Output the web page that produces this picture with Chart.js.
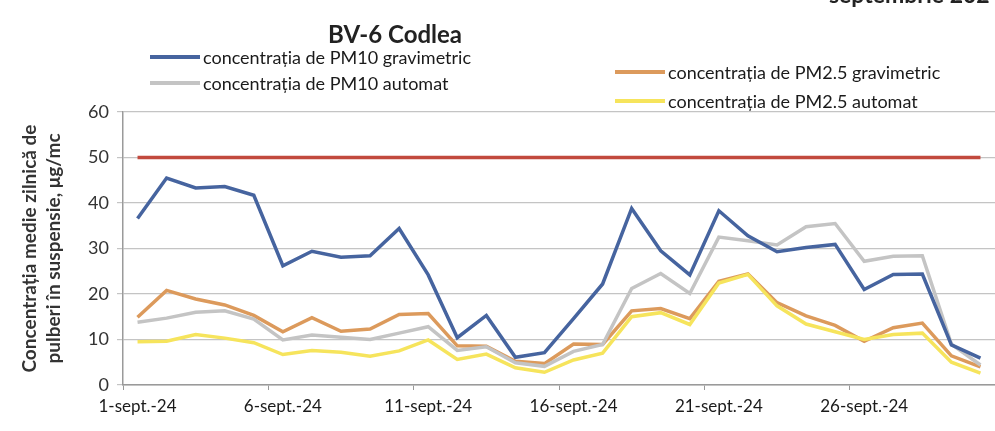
<!DOCTYPE html>
<html>
<head>
<meta charset="utf-8">
<script src="https://cdn.jsdelivr.net/npm/chart.js@4"></script>
<style>
  html, body { margin: 0; padding: 0; background: #fff; }
  #wrap { position: relative; width: 995px; height: 431px; overflow: hidden; font-family: Lato, "Open Sans", sans-serif; }
  #c { position: absolute; left: 0; top: 0; }
  .title { position: absolute; left: 0; width: 790px; top: 19px; text-align: center; font-weight: bold; font-size: 24px; color: #222; }
  .toptext { position: absolute; right: -8px; top: -20px; font-weight: bold; font-size: 23px; color: #222; white-space: nowrap; }
  .lg { position: absolute; display: flex; align-items: center; font-size: 18px; color: #1a1a1a; white-space: nowrap; }
  .lg span.s { display: inline-block; width: 50px; height: 4px; margin-right: 3px; }
</style>
</head>
<body>
<div id="wrap">
  <canvas id="c" width="995" height="431"></canvas>
  <div class="toptext">septembrie 2024</div>
  <div class="title">BV-6 Codlea</div>
  <div id="legend"></div>
</div>
<script>
const categories = [
  "1-sept.-24","2-sept.-24","3-sept.-24","4-sept.-24","5-sept.-24",
  "6-sept.-24","7-sept.-24","8-sept.-24","9-sept.-24","10-sept.-24",
  "11-sept.-24","12-sept.-24","13-sept.-24","14-sept.-24","15-sept.-24",
  "16-sept.-24","17-sept.-24","18-sept.-24","19-sept.-24","20-sept.-24",
  "21-sept.-24","22-sept.-24","23-sept.-24","24-sept.-24","25-sept.-24",
  "26-sept.-24","27-sept.-24","28-sept.-24","29-sept.-24","30-sept.-24"
];
const pm10Gravimetric = [36.6,45.5,43.3,43.6,41.7,26.2,29.4,28.1,28.4,34.4,24.2,10.4,15.3,6.1,7.1,14.6,22.2,38.8,29.5,24.2,38.3,32.8,29.3,30.2,30.9,21.0,24.3,24.4,8.8,5.9];
const pm10Automat     = [13.8,14.7,16.0,16.3,14.5,9.9,11.0,10.5,10.0,11.4,12.8,7.6,8.4,4.9,4.1,7.4,8.9,21.2,24.5,20.1,32.5,31.7,30.8,34.8,35.5,27.2,28.3,28.4,9.0,4.4];
const pm25Gravimetric = [14.9,20.8,18.9,17.6,15.3,11.7,14.8,11.8,12.3,15.5,15.7,8.6,8.5,5.2,4.7,9.0,8.9,16.3,16.8,14.6,22.8,24.4,18.1,15.2,13.1,9.6,12.6,13.6,6.4,4.0];
const pm25Automat     = [9.5,9.6,11.1,10.3,9.3,6.7,7.6,7.2,6.3,7.5,9.9,5.6,6.8,3.8,2.8,5.5,7.0,15.0,15.9,13.3,22.4,24.3,17.4,13.4,11.7,10.0,11.1,11.4,5.0,2.6];
const limitValue = 50;
const yTicks = [0,10,20,30,40,50,60];
const labelEvery = 5;

const seriesNames = [
  "concentrația de PM10 gravimetric",
  "concentrația de PM10 automat",
  "concentrația de PM2.5 gravimetric",
  "concentrația de PM2.5 automat"
];
const colors = ["#46649f", "#c4c4c4", "#dc9a5c", "#f6e45c"];

const FONT = "Lato, 'Open Sans', sans-serif";

const datasets = [
  { label: seriesNames[0], data: pm10Gravimetric, borderColor: colors[0], order: 2 },
  { label: seriesNames[1], data: pm10Automat, borderColor: colors[1], order: 3 },
  { label: seriesNames[2], data: pm25Gravimetric, borderColor: colors[2], order: 4 },
  { label: seriesNames[3], data: pm25Automat, borderColor: colors[3], order: 1 },
  { label: "valoare limită", data: categories.map(() => limitValue), borderColor: "#c24a3e", order: 5 }
].map(d => Object.assign({ borderWidth: 3.5, pointRadius: 0, tension: 0, fill: false }, d));

new Chart(document.getElementById("c"), {
  type: "line",
  data: { labels: categories, datasets },
  options: {
    responsive: false,
    animation: false,
    layout: { padding: { left: 0, right: 0, top: 112, bottom: 0 } },
    plugins: { legend: { display: false }, title: { display: false }, tooltip: { enabled: false } },
    scales: {
      x: {
        offset: true,
        grid: {
          offset: true,
          drawOnChartArea: false,
          tickLength: 5,
          color: ctx => (ctx.index % labelEvery === 0 ? "#999" : "rgba(0,0,0,0)")
        },
        border: { color: "#9a9a9a", width: 1.5 },
        ticks: {
          autoSkip: false,
          maxRotation: 0,
          padding: 6,
          color: "#1a1a1a",
          font: { family: FONT, size: 17 },
          callback: (v, i) => (i % labelEvery === 0 ? categories[i] : "")
        },
        afterFit: s => { s.height = 46; }
      },
      y: {
        min: 0, max: 60,
        afterBuildTicks: s => { s.ticks = yTicks.map(v => ({ value: v })); },
        grid: { color: "#c4c4c4", lineWidth: 1.2, tickLength: 6 },
        border: { color: "#9a9a9a", width: 1.5 },
        ticks: { color: "#333", padding: 8, font: { family: FONT, size: 18 } },
        title: {
          display: true,
          text: ["Concentrația medie zilnică de", "pulberi în suspensie, μg/mc"],
          color: "#333",
          font: { family: FONT, size: 19, weight: "bold", lineHeight: 1.25 },
          padding: { top: 18, bottom: 4 }
        },
        afterFit: s => { s.width = 123; }
      }
    }
  }
});

// HTML legend built from the series
const legendPos = [
  { left: 150, top: 46 },
  { left: 150, top: 72 },
  { left: 615, top: 61 },
  { left: 615, top: 90 }
];
const lg = document.getElementById("legend");
datasets.slice(0, 4).forEach((d, i) => {
  const el = document.createElement("div");
  el.className = "lg";
  el.style.left = legendPos[i].left + "px";
  el.style.top = legendPos[i].top + "px";
  const s = document.createElement("span");
  s.className = "s";
  s.style.background = d.borderColor;
  el.appendChild(s);
  el.appendChild(document.createTextNode(d.label));
  lg.appendChild(el);
});
</script>
</body>
</html>
